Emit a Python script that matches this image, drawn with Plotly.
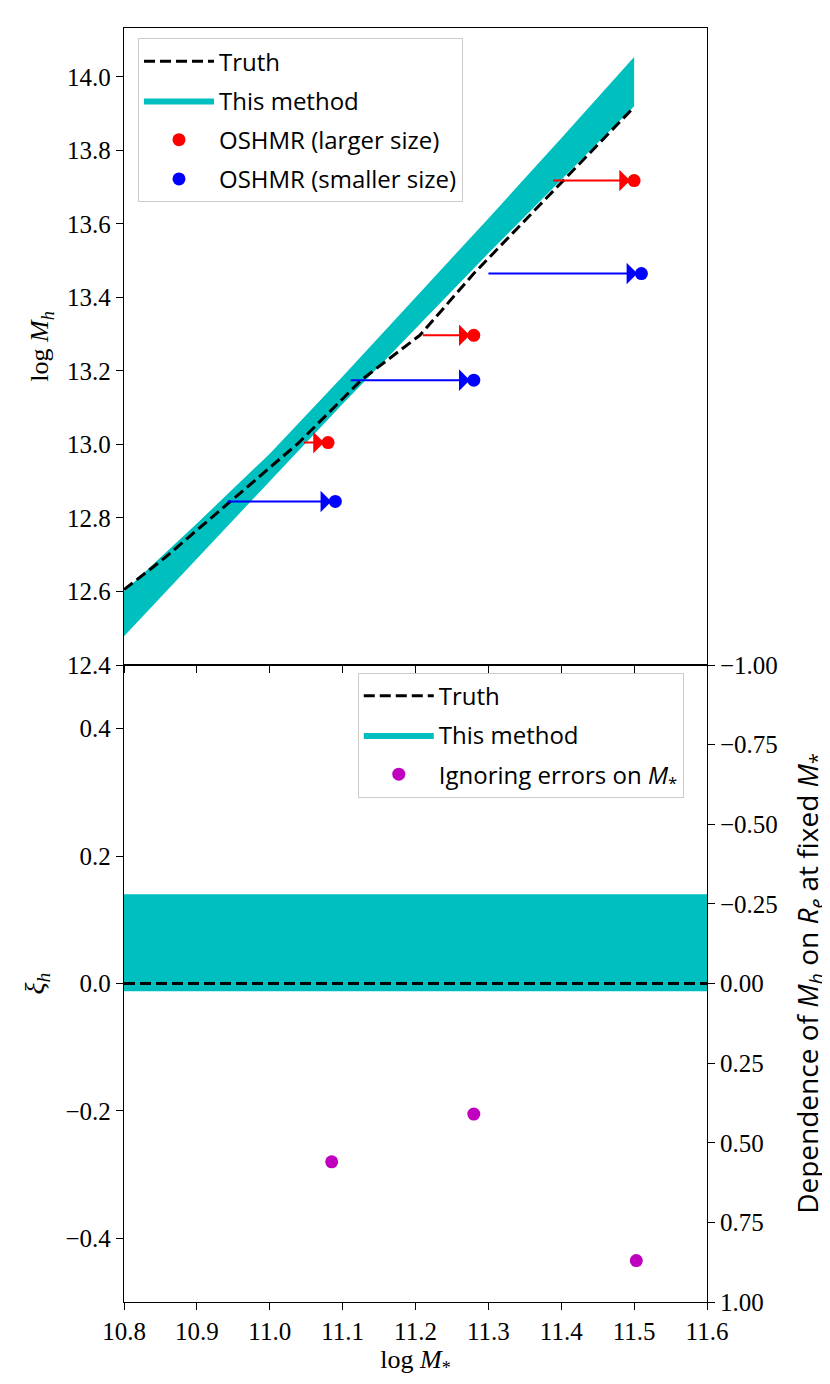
import plotly.graph_objects as go

# top panel: halo mass vs stellar mass
truth_x = [10.8, 10.855, 11.04, 11.126, 11.206, 11.28, 11.5]
truth_y = [12.605, 12.69, 13.005, 13.176, 13.297, 13.465, 13.918]

band_x = [10.8, 10.9, 11.0, 11.1, 11.2, 11.3, 11.4, 11.5]
band_hi = [12.60, 12.785, 12.975, 13.185, 13.40, 13.615, 13.833, 14.054]
band_lo = [12.478, 12.69, 12.90, 13.11, 13.315, 13.52, 13.72, 13.92]

large_x = [11.08, 11.28, 11.50]
large_y = [13.005, 13.297, 13.718]
large_start = [11.045, 11.208, 11.387]

small_x = [11.09, 11.28, 11.51]
small_y = [12.845, 13.175, 13.465]
small_start = [10.94, 11.109, 11.298]

# bottom panel: xi_h
xi_x = [10.8, 11.6]
xi_lo = -0.012
xi_hi = 0.14
xi_truth = 0.0
ign_x = [11.085, 11.28, 11.503]
ign_y = [-0.28, -0.205, -0.435]

x_ticks = [10.8, 10.9, 11.0, 11.1, 11.2, 11.3, 11.4, 11.5, 11.6]
mh_ticks = [12.4, 12.6, 12.8, 13.0, 13.2, 13.4, 13.6, 13.8, 14.0]
xi_ticks = [-0.4, -0.2, 0.0, 0.2, 0.4]
dep_ticks = [-1.0, -0.75, -0.5, -0.25, 0.0, 0.25, 0.5, 0.75, 1.0]

CYAN = "#00bfbf"
SERIF = "Liberation Serif"
SANS = "Open Sans"
DASH = "11px,5px"

fig = go.Figure()

# top panel (band under the truth line)
fig.add_trace(go.Scatter(x=band_x, y=band_lo, mode="lines", line=dict(width=0, color=CYAN),
                         showlegend=False, xaxis="x2", yaxis="y2", legendgroup="t2"))
fig.add_trace(go.Scatter(x=band_x, y=band_hi, mode="lines", line=dict(width=0, color=CYAN),
                         fill="tonexty", fillcolor=CYAN, name="This method",
                         xaxis="x2", yaxis="y2", legend="legend", legendgroup="t2", legendrank=2))
fig.add_trace(go.Scatter(x=truth_x, y=truth_y, mode="lines", name="Truth",
                         line=dict(color="black", width=3, dash=DASH),
                         xaxis="x2", yaxis="y2", legend="legend", legendgroup="t1", legendrank=1))
fig.add_trace(go.Scatter(x=large_x, y=large_y, mode="markers", name="OSHMR (larger size)",
                         marker=dict(color="red", size=13), xaxis="x2", yaxis="y2",
                         legend="legend", legendgroup="t3", legendrank=3))
fig.add_trace(go.Scatter(x=small_x, y=small_y, mode="markers", name="OSHMR (smaller size)",
                         marker=dict(color="blue", size=13), xaxis="x2", yaxis="y2",
                         legend="legend", legendgroup="t4", legendrank=4))

# arrows from truth to shifted points
for starts, xs_end, ys_end, col in ((large_start, large_x, large_y, "red"),
                                    (small_start, small_x, small_y, "blue")):
    for xs, xe, ye in zip(starts, xs_end, ys_end):
        fig.add_annotation(x=xe, y=ye, ax=xs, ay=ye, xref="x2", yref="y2", axref="x2", ayref="y2",
                           text="", showarrow=True, arrowhead=1, arrowsize=1.8, arrowwidth=2,
                           arrowcolor=col, standoff=4)

# bottom panel
fig.add_trace(go.Scatter(x=xi_x, y=[xi_lo] * 2, mode="lines", line=dict(width=0, color=CYAN),
                         showlegend=False, xaxis="x", yaxis="y", legendgroup="b2"))
fig.add_trace(go.Scatter(x=xi_x, y=[xi_hi] * 2, mode="lines", line=dict(width=0, color=CYAN),
                         fill="tonexty", fillcolor=CYAN, name="This method",
                         xaxis="x", yaxis="y", legend="legend2", legendgroup="b2", legendrank=2))
fig.add_trace(go.Scatter(x=xi_x, y=[xi_truth] * 2, mode="lines", name="Truth",
                         line=dict(color="black", width=3, dash=DASH),
                         xaxis="x", yaxis="y", legend="legend2", legendgroup="b1", legendrank=1))
fig.add_trace(go.Scatter(x=ign_x, y=ign_y, mode="markers",
                         name="Ignoring errors on <i>M</i><sub>*</sub>",
                         marker=dict(color="#bf00bf", size=13), xaxis="x", yaxis="y",
                         legend="legend2", legendgroup="b3", legendrank=3))
# right-hand axis (dependence on R_e), same line as xi_h = 0
fig.add_trace(go.Scatter(x=xi_x, y=[xi_truth] * 2, mode="lines", line=dict(width=0),
                         opacity=0, showlegend=False, hoverinfo="skip",
                         xaxis="x", yaxis="y3"))

axis_common = dict(showline=True, linecolor="black", linewidth=1.3, mirror=True,
                   ticks="outside", ticklen=7, tickwidth=1.3, tickcolor="black",
                   showgrid=False, zeroline=False,
                   tickfont=dict(family=SERIF, size=25, color="black"))

legend_common = dict(bgcolor="white", bordercolor="#cccccc", borderwidth=1,
                     font=dict(family=SANS, size=24, color="black"),
                     traceorder="grouped", tracegroupgap=5, itemwidth=70,
                     xanchor="left", yanchor="top")

fig.update_layout(
    width=822, height=1376,
    margin=dict(l=116, r=123, t=7, b=82),
    plot_bgcolor="white", paper_bgcolor="white",
    xaxis=dict(**axis_common, domain=[0, 1], anchor="y", range=[10.8, 11.6],
               tickvals=x_ticks, tickformat=".1f",
               title=dict(text="log <i>M</i><sub>*</sub>",
                          font=dict(family=SERIF, size=26, color="black"), standoff=0)),
    yaxis=dict(**axis_common, domain=[0, 0.5], anchor="x", range=[-0.5, 0.5],
               tickvals=xi_ticks, tickformat=".1f",
               title=dict(text="<i>ξ<sub>h</sub></i>",
                          font=dict(family=SERIF, size=28, color="black"), standoff=12)),
    yaxis3=dict(showline=False, ticks="outside", ticklen=7, tickwidth=1.3, tickcolor="black",
                showgrid=False, zeroline=False, overlaying="y", side="right", anchor="x",
                range=[1, -1], tickvals=dep_ticks, tickformat=".2f",
                tickfont=dict(family=SERIF, size=25, color="black"),
                title=dict(text="Dependence of <i>M<sub>h</sub></i> on <i>R<sub>e</sub></i> at fixed <i>M</i><sub>*</sub>",
                           font=dict(family=SANS, size=28, color="black"), standoff=24)),
    xaxis2=dict(**axis_common, domain=[0, 1], anchor="y2", range=[10.8, 11.6],
                matches="x", tickvals=x_ticks, showticklabels=False),
    yaxis2=dict(**axis_common, domain=[0.5, 1], anchor="x2", range=[12.4, 14.133],
                tickvals=mh_ticks, tickformat=".1f",
                title=dict(text="log <i>M<sub>h</sub></i>",
                           font=dict(family=SERIF, size=26, color="black"), standoff=10)),
    legend=dict(**legend_common, x=0.024, y=0.992),
    legend2=dict(**legend_common, x=0.401, y=0.494),
)

fig.write_html("out.html")
